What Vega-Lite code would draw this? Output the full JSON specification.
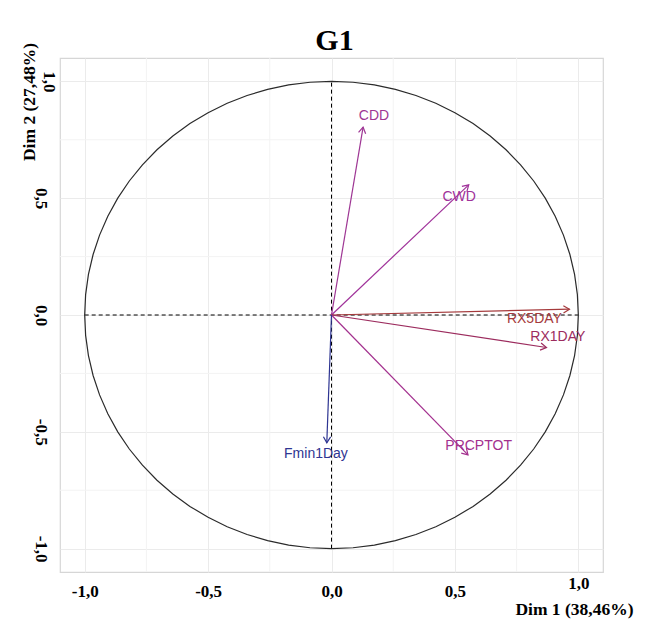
{
  "$schema": "https://vega.github.io/schema/vega-lite/v6.json",
  "width": 543,
  "height": 514,
  "autosize": {"type": "none"},
  "padding": {"left": 60, "top": 58, "right": 46, "bottom": 49},
  "background": "white",
  "title": {"text": "G1", "anchor": "middle", "frame": "group", "font": "Liberation Serif", "fontSize": 30, "fontWeight": "bold", "color": "#000000", "baseline": "bottom", "offset": 4, "dx": 3, "dy": 48},
  "config": {
    "view": {"stroke": "#d6d6d6", "strokeWidth": 1.2}
  },
  "datasets": {
    "vars": [
      {"name": "CDD", "x": 0.128, "y": 0.804, "lx": 0.172, "ly": 0.853},
      {"name": "CWD", "x": 0.556, "y": 0.557, "lx": 0.517, "ly": 0.505},
      {"name": "RX5DAY", "x": 0.964, "y": 0.025, "lx": 0.822, "ly": -0.017},
      {"name": "RX1DAY", "x": 0.871, "y": -0.139, "lx": 0.917, "ly": -0.096},
      {"name": "PRCPTOT", "x": 0.553, "y": -0.599, "lx": 0.596, "ly": -0.561},
      {"name": "Fmin1Day", "x": -0.019, "y": -0.547, "lx": -0.063, "ly": -0.593}
    ],
    "minor": [{"v": -0.75}, {"v": -0.25}, {"v": 0.25}, {"v": 0.75}],
    "ref": [
      {"x": -1, "x2": 1, "y": 0, "y2": 0},
      {"x": 0, "x2": 0, "y": -1, "y2": 1}
    ],
    "circle": [
      {"a": 0, "cx": 1, "cy": 0},
      {"a": 5, "cx": 0.9962, "cy": 0.0872},
      {"a": 10, "cx": 0.9848, "cy": 0.1736},
      {"a": 15, "cx": 0.9659, "cy": 0.2588},
      {"a": 20, "cx": 0.9397, "cy": 0.342},
      {"a": 25, "cx": 0.9063, "cy": 0.4226},
      {"a": 30, "cx": 0.866, "cy": 0.5},
      {"a": 35, "cx": 0.8192, "cy": 0.5736},
      {"a": 40, "cx": 0.766, "cy": 0.6428},
      {"a": 45, "cx": 0.7071, "cy": 0.7071},
      {"a": 50, "cx": 0.6428, "cy": 0.766},
      {"a": 55, "cx": 0.5736, "cy": 0.8192},
      {"a": 60, "cx": 0.5, "cy": 0.866},
      {"a": 65, "cx": 0.4226, "cy": 0.9063},
      {"a": 70, "cx": 0.342, "cy": 0.9397},
      {"a": 75, "cx": 0.2588, "cy": 0.9659},
      {"a": 80, "cx": 0.1736, "cy": 0.9848},
      {"a": 85, "cx": 0.0872, "cy": 0.9962},
      {"a": 90, "cx": 0, "cy": 1},
      {"a": 95, "cx": -0.0872, "cy": 0.9962},
      {"a": 100, "cx": -0.1736, "cy": 0.9848},
      {"a": 105, "cx": -0.2588, "cy": 0.9659},
      {"a": 110, "cx": -0.342, "cy": 0.9397},
      {"a": 115, "cx": -0.4226, "cy": 0.9063},
      {"a": 120, "cx": -0.5, "cy": 0.866},
      {"a": 125, "cx": -0.5736, "cy": 0.8192},
      {"a": 130, "cx": -0.6428, "cy": 0.766},
      {"a": 135, "cx": -0.7071, "cy": 0.7071},
      {"a": 140, "cx": -0.766, "cy": 0.6428},
      {"a": 145, "cx": -0.8192, "cy": 0.5736},
      {"a": 150, "cx": -0.866, "cy": 0.5},
      {"a": 155, "cx": -0.9063, "cy": 0.4226},
      {"a": 160, "cx": -0.9397, "cy": 0.342},
      {"a": 165, "cx": -0.9659, "cy": 0.2588},
      {"a": 170, "cx": -0.9848, "cy": 0.1736},
      {"a": 175, "cx": -0.9962, "cy": 0.0872},
      {"a": 180, "cx": -1, "cy": 0},
      {"a": 185, "cx": -0.9962, "cy": -0.0872},
      {"a": 190, "cx": -0.9848, "cy": -0.1736},
      {"a": 195, "cx": -0.9659, "cy": -0.2588},
      {"a": 200, "cx": -0.9397, "cy": -0.342},
      {"a": 205, "cx": -0.9063, "cy": -0.4226},
      {"a": 210, "cx": -0.866, "cy": -0.5},
      {"a": 215, "cx": -0.8192, "cy": -0.5736},
      {"a": 220, "cx": -0.766, "cy": -0.6428},
      {"a": 225, "cx": -0.7071, "cy": -0.7071},
      {"a": 230, "cx": -0.6428, "cy": -0.766},
      {"a": 235, "cx": -0.5736, "cy": -0.8192},
      {"a": 240, "cx": -0.5, "cy": -0.866},
      {"a": 245, "cx": -0.4226, "cy": -0.9063},
      {"a": 250, "cx": -0.342, "cy": -0.9397},
      {"a": 255, "cx": -0.2588, "cy": -0.9659},
      {"a": 260, "cx": -0.1736, "cy": -0.9848},
      {"a": 265, "cx": -0.0872, "cy": -0.9962},
      {"a": 270, "cx": 0, "cy": -1},
      {"a": 275, "cx": 0.0872, "cy": -0.9962},
      {"a": 280, "cx": 0.1736, "cy": -0.9848},
      {"a": 285, "cx": 0.2588, "cy": -0.9659},
      {"a": 290, "cx": 0.342, "cy": -0.9397},
      {"a": 295, "cx": 0.4226, "cy": -0.9063},
      {"a": 300, "cx": 0.5, "cy": -0.866},
      {"a": 305, "cx": 0.5736, "cy": -0.8192},
      {"a": 310, "cx": 0.6428, "cy": -0.766},
      {"a": 315, "cx": 0.7071, "cy": -0.7071},
      {"a": 320, "cx": 0.766, "cy": -0.6428},
      {"a": 325, "cx": 0.8192, "cy": -0.5736},
      {"a": 330, "cx": 0.866, "cy": -0.5},
      {"a": 335, "cx": 0.9063, "cy": -0.4226},
      {"a": 340, "cx": 0.9397, "cy": -0.342},
      {"a": 345, "cx": 0.9659, "cy": -0.2588},
      {"a": 350, "cx": 0.9848, "cy": -0.1736},
      {"a": 355, "cx": 0.9962, "cy": -0.0872},
      {"a": 360, "cx": 1, "cy": 0}
    ]
  },
  "layer": [
    {
      "data": {"name": "minor"},
      "mark": {"type": "rule", "color": "#f3f3f3", "strokeWidth": 1},
      "encoding": {
        "x": {
          "field": "v", "type": "quantitative",
          "scale": {"domain": [-1.1, 1.1], "nice": false, "zero": false},
          "axis": {
            "values": [-1, -0.5, 0, 0.5, 1],
            "labelExpr": "(datum.value < 0 ? '-' : '') + replace(format(abs(datum.value), '.1f'), '.', ',')",
            "labelFont": "Liberation Serif", "labelFontWeight": "bold", "labelFontSize": 17, "labelColor": "#000000",
            "labelPadding": 11,
            "labelBaseline": {"condition": {"test": "datum.value == 1", "value": "middle"}, "value": "top"},
            "ticks": false, "domain": false, "grid": true, "gridColor": "#ebebeb", "gridWidth": 1,
            "title": "Dim 1 (38,46%)",
            "titleFont": "Liberation Serif", "titleFontWeight": "bold", "titleFontSize": 17.5, "titleColor": "#000000",
            "titleAlign": "right", "titleBaseline": "middle", "titleX": 573, "titleY": 37.5
          }
        }
      }
    },
    {
      "data": {"name": "minor"},
      "mark": {"type": "rule", "color": "#f3f3f3", "strokeWidth": 1},
      "encoding": {
        "y": {
          "field": "v", "type": "quantitative",
          "scale": {"domain": [-1.1, 1.1], "nice": false, "zero": false},
          "axis": {
            "values": [-1, -0.5, 0, 0.5, 1],
            "labelExpr": "(datum.value < 0 ? '-' : '') + replace(format(abs(datum.value), '.1f'), '.', ',')",
            "labelFont": "Liberation Serif", "labelFontWeight": "bold", "labelFontSize": 17, "labelColor": "#000000",
            "labelAngle": 90, "labelAlign": "center",
            "labelBaseline": {"condition": {"test": "datum.value == 1", "value": "middle"}, "value": "top"},
            "labelPadding": 12,
            "ticks": false, "domain": false, "grid": true, "gridColor": "#ebebeb", "gridWidth": 1,
            "title": "Dim 2 (27,48%)",
            "titleFont": "Liberation Serif", "titleFontWeight": "bold", "titleFontSize": 17.5, "titleColor": "#000000",
            "titleAngle": 270, "titleAlign": "center", "titleBaseline": "middle", "titleX": -31, "titleY": 43.5
          }
        }
      }
    },
    {
      "data": {"name": "ref"},
      "mark": {"type": "rule", "color": "#000000", "strokeWidth": 1, "strokeDash": [4, 3]},
      "encoding": {
        "x": {"field": "x", "type": "quantitative"},
        "x2": {"field": "x2"},
        "y": {"field": "y", "type": "quantitative"},
        "y2": {"field": "y2"}
      }
    },
    {
      "data": {"name": "circle"},
      "mark": {"type": "line", "color": "#2b2b2b", "strokeWidth": 1.2, "clip": false},
      "encoding": {
        "x": {"field": "cx", "type": "quantitative"},
        "y": {"field": "cy", "type": "quantitative"},
        "order": {"field": "a", "type": "quantitative"}
      }
    },
    {
      "data": {"name": "vars"},
      "transform": [{"calculate": "0", "as": "o"}],
      "mark": {"type": "rule", "strokeWidth": 1.2},
      "encoding": {
        "x": {"field": "o", "type": "quantitative"},
        "y": {"field": "o", "type": "quantitative"},
        "x2": {"field": "x"},
        "y2": {"field": "y"},
        "color": {"field": "name", "type": "nominal", "legend": null,
          "scale": {"domain": ["CDD", "CWD", "RX5DAY", "RX1DAY", "PRCPTOT", "Fmin1Day"],
                    "range": ["#9e3694", "#a0329a", "#a53a3c", "#9c2c5e", "#a3308e", "#2e3592"]}}
      }
    },
    {
      "data": {"name": "vars"},
      "transform": [{"calculate": "atan2(datum.x * 247.5, datum.y * 234.5) * 180 / PI", "as": "ang"}],
      "mark": {"type": "point", "shape": "M -0.6 1 L 0 0 L 0.6 1", "filled": false, "size": 144, "strokeWidth": 1.2, "opacity": 1},
      "encoding": {
        "x": {"field": "x", "type": "quantitative"},
        "y": {"field": "y", "type": "quantitative"},
        "angle": {"field": "ang", "type": "quantitative", "scale": null},
        "color": {"field": "name", "type": "nominal", "legend": null}
      }
    },
    {
      "data": {"name": "vars"},
      "mark": {"type": "text", "font": "Liberation Sans", "fontSize": 14, "align": "center", "baseline": "middle"},
      "encoding": {
        "x": {"field": "lx", "type": "quantitative"},
        "y": {"field": "ly", "type": "quantitative"},
        "text": {"field": "name"},
        "color": {"field": "name", "type": "nominal", "legend": null}
      }
    }
  ]
}
